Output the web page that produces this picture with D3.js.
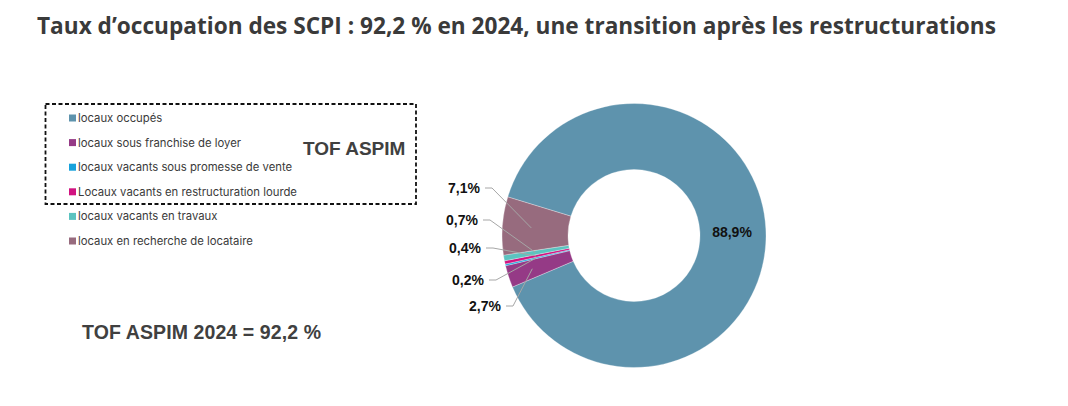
<!DOCTYPE html>
<html>
<head>
<meta charset="utf-8">
<script src="https://cdn.jsdelivr.net/npm/d3@7"></script>
<style>
  body { margin: 0; background: #fff; }
  svg { display: block; }
</style>
</head>
<body>
<div id="chart"></div>
<script>
const categories = [
    'locaux occupés',
    'locaux sous franchise de loyer',
    'locaux vacants sous promesse de vente',
    'Locaux vacants en restructuration lourde',
    'locaux vacants en travaux',
    'locaux en recherche de locataire'
]
const values = [88.9, 2.7, 0.2, 0.4, 0.7, 7.1]
const sliceColors = ['#5e93ad', '#953a86', '#17a2dc', '#d11380', '#5bc3c0', '#976b7e']
const labels = ['88,9%', '2,7%', '0,2%', '0,4%', '0,7%', '7,1%']

const w = 1068
const h = 406

const svg = d3.select('#chart')
    .append('svg')
    .attr('width', w)
    .attr('height', h)

// title
const title = svg.append('text')
    .attr('x', 37)
    .attr('y', 34)
    .attr('fill', '#3a3a3a')
    .style('font-family', '"Open Sans", Inter, sans-serif')
    .style('font-weight', 700)
    .style('font-size', '20px')
    .text('Taux d\u2019occupation des SCPI : 92,2 % en 2024, une transition après les restructurations')
const tw = title.node().getComputedTextLength()
title.style('font-size', (20 * 960 / tw) + 'px')

// legend
const legend = svg.append('g')

legend.append('rect')
    .attr('x', 45.5)
    .attr('y', 104)
    .attr('width', 370.5)
    .attr('height', 100)
    .attr('fill', 'none')
    .attr('stroke', '#111')
    .attr('stroke-width', 1.8)
    .attr('stroke-dasharray', '4,2.5')

const legendY = d3.scalePoint().domain(categories).range([118, 241])

const items = legend.selectAll('g.item')
    .data(categories)
    .enter()
    .append('g')
    .attr('class', 'item')
    .attr('transform', d => `translate(69, ${legendY(d)})`)

items.append('rect')
    .attr('x', 0)
    .attr('y', -3.5)
    .attr('width', 7)
    .attr('height', 7)
    .attr('fill', (d, i) => sliceColors[i])

items.append('text')
    .attr('x', 9)
    .attr('dy', '0.35em')
    .attr('fill', '#3a3a3a')
    .style('font-family', 'Inter, "Open Sans", sans-serif')
    .style('font-size', '11.3px')
    .text(d => d)

legend.append('text')
    .attr('x', 303)
    .attr('y', 155)
    .attr('fill', '#404040')
    .style('font-family', '"Liberation Sans", Arial, sans-serif')
    .style('font-weight', 700)
    .style('font-size', '19px')
    .text('TOF ASPIM')

svg.append('text')
    .attr('x', 82)
    .attr('y', 339)
    .attr('fill', '#404040')
    .style('font-family', '"Liberation Sans", Arial, sans-serif')
    .style('font-weight', 700)
    .style('font-size', '19.5px')
    .style('letter-spacing', '0.1px')
    .text('TOF ASPIM 2024 = 92,2 %')

// donut
const cx = 634
const cy = 235.5
const outerR = 132
const innerR = 66
const startA = -73 * Math.PI / 180

const pie = d3.pie()
    .sort(null)
    .value(d => d)
    .startAngle(startA)
    .endAngle(startA + 2 * Math.PI)

const arcs = pie(values)

const arc = d3.arc().innerRadius(innerR).outerRadius(outerR)

const donut = svg.append('g').attr('transform', `translate(${cx}, ${cy})`)

donut.selectAll('path')
    .data(arcs)
    .enter()
    .append('path')
    .attr('d', arc)
    .attr('fill', (d, i) => sliceColors[i])
    .attr('stroke', '#fff')
    .attr('stroke-width', 0.3)

// big slice label inside
donut.append('text')
    .attr('x', 98)
    .attr('y', -3)
    .attr('text-anchor', 'middle')
    .attr('dy', '0.35em')
    .attr('fill', '#111')
    .style('font-family', '"Liberation Sans", Arial, sans-serif')
    .style('font-weight', 700)
    .style('font-size', '14px')
    .text(labels[0])

// outside labels with leader lines (label anchor positions on the left)
const labelPos = [null, [501, 306], [484, 280], [481, 248], [478, 220], [480, 188]]
const pointR = [0, 107, 100, 100, 100, 103]

const small = arcs.slice(1).map((a, k) => ({arc: a, i: k + 1}))

const leaders = svg.append('g')

small.forEach(({arc: a, i}) => {
    const mid = (a.startAngle + a.endAngle) / 2
    const px = cx + Math.sin(mid) * pointR[i]
    const py = cy - Math.cos(mid) * pointR[i]
    const [lx, ly] = labelPos[i]
    leaders.append('path')
        .attr('d', d3.line()([[lx + 5, ly], [lx + 12, ly], [px, py]]))
        .attr('fill', 'none')
        .attr('stroke', '#a6a6a6')
        .attr('stroke-width', 1)
    leaders.append('text')
        .attr('x', lx)
        .attr('y', ly)
        .attr('dy', '0.35em')
        .attr('text-anchor', 'end')
        .attr('fill', '#111')
        .style('font-family', '"Liberation Sans", Arial, sans-serif')
        .style('font-weight', 700)
        .style('font-size', '14px')
        .text(labels[i])
})
</script>
</body>
</html>
